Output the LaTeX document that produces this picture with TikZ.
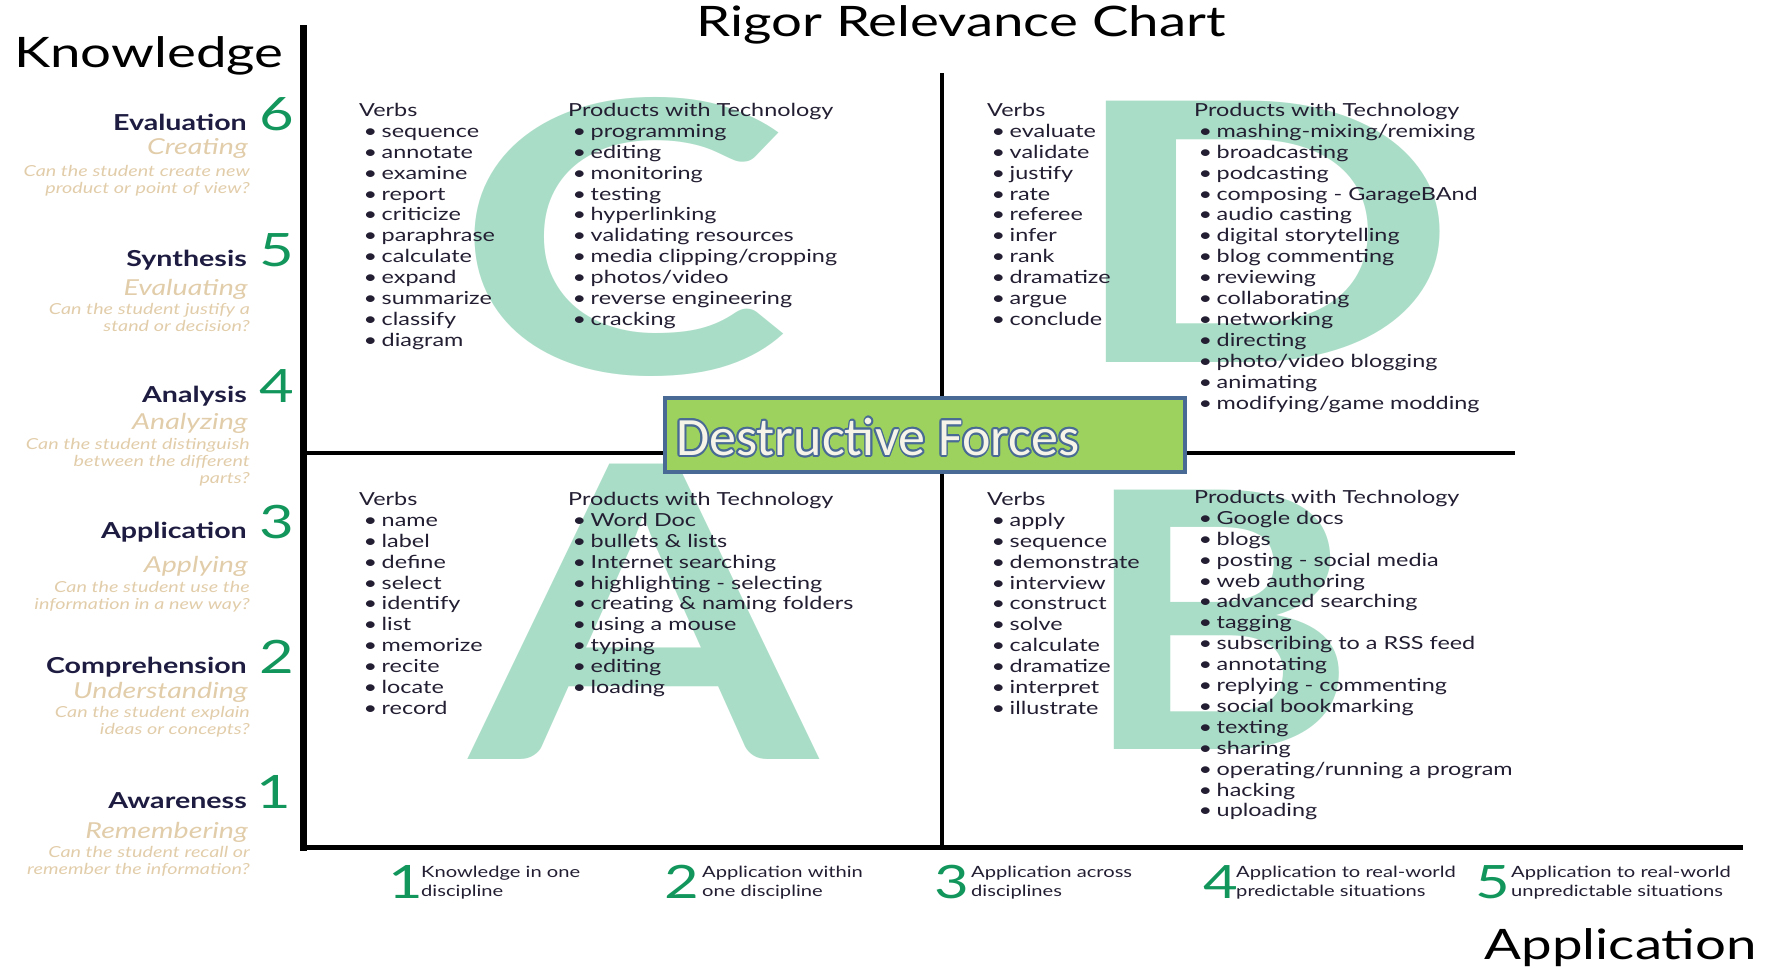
\documentclass[tikz,border=0pt]{standalone}
\usepackage{fontspec}
\usepackage{graphicx}
\setmainfont{Lato}
\newfontfamily\gill[FakeStretch=1.3]{Lato}
\newfontfamily\calib{Carlito}
\definecolor{listink}{RGB}{35,30,50}
\definecolor{navy}{RGB}{30,28,65}
\definecolor{tan}{RGB}{226,205,170}
\definecolor{numgreen}{RGB}{18,150,92}
\definecolor{letterfill}{RGB}{170,221,199}
\definecolor{forcefill}{RGB}{158,210,94}
\definecolor{forceedge}{RGB}{72,106,148}
\definecolor{forcecream}{RGB}{246,243,232}
\newcommand\bul[1]{\\\hspace*{4.5pt}\makebox[18pt][l]{\textbullet}#1}
\newlength\inkleft
\newlength\inkright
\newcommand\inkletter[3]{%
  \inkleft=\XeTeXglyphbounds1 \XeTeXcharglyph`#3\relax
  \inkright=\XeTeXglyphbounds3 \XeTeXcharglyph`#3\relax
  \resizebox{#1}{#2}{\hspace*{-\inkleft}#3\hspace*{-\inkright}}}

\begin{document}
\begin{tikzpicture}
        [
            x = 1pt, y = -1pt,
            axis/.style       = {draw, line cap=rect},
            bigletter/.style  = {inner sep=0pt, text=letterfill, font=\bfseries},
            listbox/.style    = {anchor=north west, align=left, inner sep=0pt, text=listink, font=\gill\fontsize{18}{20.9}\selectfont},
            levelname/.style  = {anchor=base east, inner sep=0pt, text=navy, font=\gill\bfseries\fontsize{22}{26}\selectfont},
            levelverb/.style  = {anchor=base east, inner sep=0pt, text=tan, font=\gill\itshape\fontsize{22}{26}\selectfont},
            levelask/.style   = {anchor=north east, align=right, inner sep=0pt, text=tan, font=\gill\itshape\fontsize{15.2}{17}\selectfont},
            levelnum/.style   = {anchor=base west, inner sep=0pt, text=numgreen, font=\gill\fontsize{46}{46}\selectfont},
            stepnote/.style   = {anchor=north west, align=left, inner sep=0pt, text=listink, font=\gill\fontsize{15.5}{19}\selectfont},
            bigword/.style    = {inner sep=0pt, text=black, font=\gill\fontsize{42}{46}\selectfont},
            forcebox/.style   = {draw=forceedge, line width=4pt, fill=forcefill, minimum width=520pt, minimum height=74pt, inner sep=0pt},
            forceword/.style  = {anchor=west, inner sep=0pt, font=\calib\fontsize{54}{60}\selectfont},
            ]
            \useasboundingbox (0,0) rectangle (1780,968);

            \node [bigletter] (letterC) at (629,237) {\inkletter{308pt}{275pt}{C}};
            \node [bigletter] (letterD) at (1273,232) {\inkletter{333pt}{261pt}{D}};
            \node [bigletter] (letterA) at (644,612) {\inkletter{351pt}{295pt}{A}};
            \node [bigletter] (letterB) at (1227,620) {\inkletter{225pt}{259pt}{B}};

            \coordinate (ytop) at (303,29);
            \coordinate (origin) at (303,847);
            \coordinate (xend) at (1740,847);
            \coordinate (midtop) at (942,75);
            \coordinate (midbot) at (942,847);
            \coordinate (midleft) at (303,453);
            \coordinate (midright) at (1513,453);
            \draw [axis, line width=7pt] (ytop) -- (origin);
            \draw [axis, line width=5pt] (origin) -- (xend);
            \draw [axis, line width=4.5pt] (midtop) -- (midbot);
            \draw [axis, line width=4.5pt] (midleft) -- (midright);

            \node [bigword, anchor=base] (title) at (961,37) {Rigor Relevance Chart};
            \node [bigword, anchor=base west] (knowledge) at (14,68) {Knowledge};
            \node [bigword, anchor=base east] (application) at (1757,959) {Application};

            \node [levelname] (evaluation) at (247,131) {Evaluation};
            \node [levelnum] (num6) at (259,131) {6};
            \node [levelverb] (creating) at (248,155) {Creating};
            \node [levelask] (ask6) at (250,165) {Can the student create new\\product or point of view?};

            \node [levelname] (synthesis) at (247,267) {Synthesis};
            \node [levelnum] (num5) at (259,267) {5};
            \node [levelverb] (evaluating) at (248,296) {Evaluating};
            \node [levelask] (ask5) at (250,303) {Can the student justify a\\stand or decision?};

            \node [levelname] (analysis) at (247,402) {Analysis};
            \node [levelnum] (num4) at (259,402) {4};
            \node [levelverb] (analyzing) at (248,429) {Analyzing};
            \node [levelask] (ask4) at (250,438) {Can the student distinguish\\between the different\\parts?};

            \node [levelname] (applicationlvl) at (247,538) {Application};
            \node [levelnum] (num3) at (259,538) {3};
            \node [levelverb] (applying) at (248,572) {Applying};
            \node [levelask] (ask3) at (250,581) {Can the student use the\\information in a new way?};

            \node [levelname] (comprehension) at (247,673) {Comprehension};
            \node [levelnum] (num2) at (259,673) {2};
            \node [levelverb] (understanding) at (248,698) {Understanding};
            \node [levelask] (ask2) at (250,706) {Can the student explain\\ideas or concepts?};

            \node [levelname] (awareness) at (247,808) {Awareness};
            \node [levelnum, anchor=base] (num1) at (274,808) {1};
            \node [levelverb] (remembering) at (248,838) {Remembering};
            \node [levelask] (ask1) at (250,846) {Can the student recall or\\remember the information?};

            \node [listbox] (verbsC) at (359,103) {Verbs\bul{sequence}\bul{annotate}\bul{examine}\bul{report}\bul{criticize}\bul{paraphrase}\bul{calculate}\bul{expand}\bul{summarize}\bul{classify}\bul{diagram}};
            \node [listbox] (techC) at (568,103) {Products with Technology\bul{programming}\bul{editing}\bul{monitoring}\bul{testing}\bul{hyperlinking}\bul{validating resources}\bul{media clipping/cropping}\bul{photos/video}\bul{reverse engineering}\bul{cracking}};
            \node [listbox] (verbsD) at (987,103) {Verbs\bul{evaluate}\bul{validate}\bul{justify}\bul{rate}\bul{referee}\bul{infer}\bul{rank}\bul{dramatize}\bul{argue}\bul{conclude}};
            \node [listbox] (techD) at (1194,103) {Products with Technology\bul{mashing-mixing/remixing}\bul{broadcasting}\bul{podcasting}\bul{composing - GarageBAnd}\bul{audio casting}\bul{digital storytelling}\bul{blog commenting}\bul{reviewing}\bul{collaborating}\bul{networking}\bul{directing}\bul{photo/video blogging}\bul{animating}\bul{modifying/game modding}};
            \node [listbox] (verbsA) at (359,492) {Verbs\bul{name}\bul{label}\bul{define}\bul{select}\bul{identify}\bul{list}\bul{memorize}\bul{recite}\bul{locate}\bul{record}};
            \node [listbox] (techA) at (568,492) {Products with Technology\bul{Word Doc}\bul{bullets \& lists}\bul{Internet searching}\bul{highlighting - selecting}\bul{creating \& naming folders}\bul{using a mouse}\bul{typing}\bul{editing}\bul{loading}};
            \node [listbox] (verbsB) at (987,492) {Verbs\bul{apply}\bul{sequence}\bul{demonstrate}\bul{interview}\bul{construct}\bul{solve}\bul{calculate}\bul{dramatize}\bul{interpret}\bul{illustrate}};
            \node [listbox] (techB) at (1194,490) {Products with Technology\bul{Google docs}\bul{blogs}\bul{posting - social media}\bul{web authoring}\bul{advanced searching}\bul{tagging}\bul{subscribing to a RSS feed}\bul{annotating}\bul{replying - commenting}\bul{social bookmarking}\bul{texting}\bul{sharing}\bul{operating/running a program}\bul{hacking}\bul{uploading}};

            \node [levelnum, anchor=base] (step1) at (406,898) {1};
            \node [stepnote] (note1) at (421,866) {Knowledge in one\\discipline};
            \node [levelnum] (step2) at (664,898) {2};
            \node [stepnote] (note2) at (702,866) {Application within\\one discipline};
            \node [levelnum] (step3) at (934,898) {3};
            \node [stepnote] (note3) at (971,866) {Application across\\disciplines};
            \node [levelnum] (step4) at (1203,898) {4};
            \node [stepnote] (note4) at (1236,866) {Application to real-world\\predictable situations};
            \node [levelnum] (step5) at (1475,898) {5};
            \node [stepnote] (note5) at (1511,866) {Application to real-world\\unpredictable situations};

            \node [forcebox] (forces) at (925,435) {};
            \coordinate (forcesword) at (676,437);
            \foreach \a in {0,30,...,330}
                \node [forceword, text=forceedge] (forcesrim\a) at ([shift={(\a:1.8pt)}]forcesword) {Destructive Forces};
            \node [forceword, text=forcecream] (forcestext) at (forcesword) {Destructive Forces};
        \end{tikzpicture}
\end{document}
